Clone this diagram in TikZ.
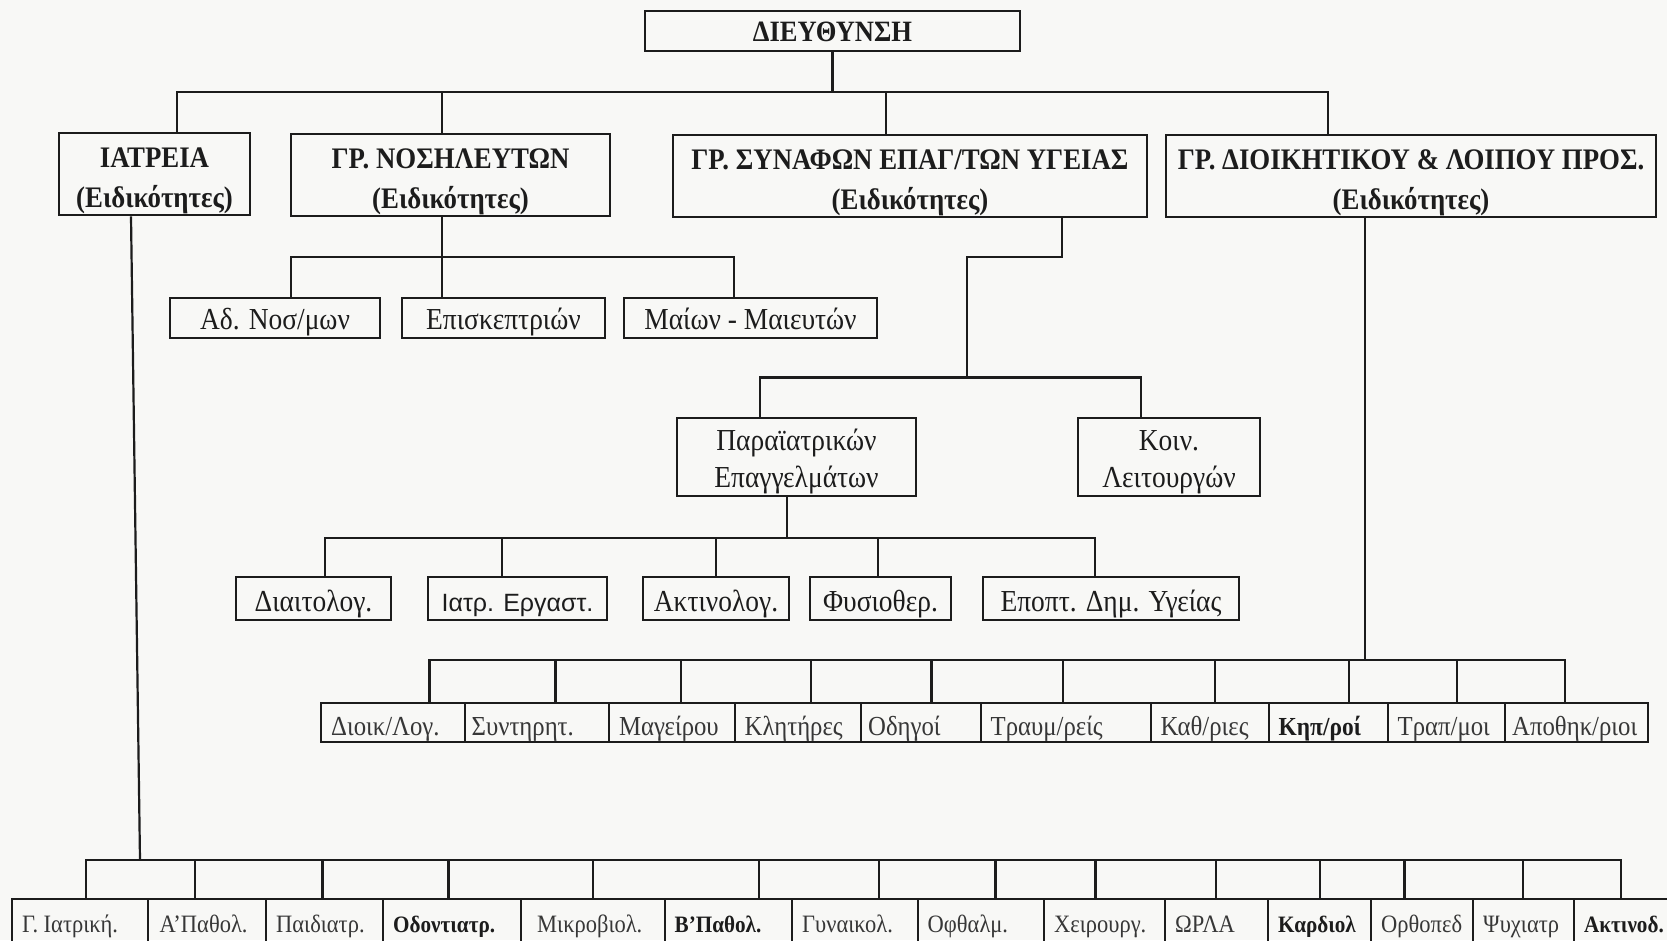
\documentclass[tikz,border=0pt]{standalone}
\usepackage{fontspec}
\setmainfont{Liberation Serif}[FakeStretch=0.9]
\newfontfamily\labsans{Liberation Sans}
\definecolor{paper}{RGB}{248,248,246}
\definecolor{ink}{RGB}{28,28,28}
\definecolor{fade}{RGB}{55,55,55}

\tikzset{
  frame/.style={draw=ink, line width=2.3pt, inner sep=0pt},
  thin/.style={frame, line width=2pt},
  thick/.style={frame, line width=2.6pt},
  link/.style={draw=ink, line width=2.2pt},
  txt/.style={inner sep=0pt, align=center, text=ink},
  headtxt/.style={anchor=base, yshift=-10.8pt, font=\fontsize{29.5}{32}\selectfont\bfseries},
  grouptxt/.style={yshift=-6.5pt, font=\fontsize{29.8}{40}\selectfont\bfseries},
  subtxt/.style={anchor=base, yshift=-11pt, font=\fontsize{30.5}{37}\selectfont},
  pairtxt/.style={yshift=-5pt, font=\fontsize{30.5}{37}\selectfont},
  unittxt/.style={anchor=base, yshift=-13pt, font=\fontsize{30.5}{37}\selectfont},
  stafftxt/.style={anchor=base west, xshift=11pt, yshift=-13pt, text=fade, font=\fontsize{27.5}{30}\selectfont},
  clinictxt/.style={anchor=base west, xshift=11pt, yshift=-10pt, text=fade, font=\fontsize{25}{28}\selectfont},
  heavy/.style={text=ink, font=\fontsize{23.5}{26}\selectfont\bfseries},
}

% box given by its corners, text on its centre:
% [frame style]{name}{x1}{y1}{x2}{y2}{text style}{text}
\newcommand\orgbox[8][]{%
  \node[frame,#1, minimum width={#5-#3}, minimum height={#6-#4}]
    (#2) at ({(#3+#5)/2},{(#4+#6)/2}) {};
  \node[txt,#7] at (#2.center) {#8};}
% same, text set from the left side
\newcommand\orgboxl[8][]{%
  \node[frame,#1, minimum width={#5-#3}, minimum height={#6-#4}]
    (#2) at ({(#3+#5)/2},{(#4+#6)/2}) {};
  \node[txt,#7] at (#2.west) {#8};}

\begin{document}
\begin{tikzpicture}[x=1pt, y=-1pt]
\useasboundingbox (0,0) rectangle (1667,940);
\clip (0,0) rectangle (1667,940);
\fill[paper] (0,0) rectangle (1667,940);

% bus levels
\coordinate (busA) at (0,92);
\coordinate (busN) at (0,257);
\coordinate (busP) at (0,377.5);
\coordinate (busQ) at (0,538);
\coordinate (busD) at (0,660);
\coordinate (busE) at (0,860);

% management
\orgbox{dir}{645}{11}{1020}{51}{headtxt}{ΔΙΕΥΘΥΝΣΗ}

% staff groups
\orgbox[thick]{iatr}{59}{133}{250}{215}{grouptxt}{ΙΑΤΡΕΙΑ\\(Ειδικότητες)}
\orgbox[thick]{nos}{291}{134}{610}{216}{grouptxt}{ΓΡ. ΝΟΣΗΛΕΥΤΩΝ\\(Ειδικότητες)}
\orgbox[thick]{syn}{673}{135}{1147}{217}{grouptxt}{ΓΡ. ΣΥΝΑΦΩΝ ΕΠΑΓ/ΤΩΝ ΥΓΕΙΑΣ\\(Ειδικότητες)}
\orgbox[thick]{dioik}{1166}{135}{1656}{217}{grouptxt}{ΓΡ. ΔΙΟΙΚΗΤΙΚΟΥ \& ΛΟΙΠΟΥ ΠΡΟΣ.\\(Ειδικότητες)}

\draw[link] (dir.south) -- (dir.south |- busA);
\draw[link] (177,0 |- iatr.north) -- (177,0 |- busA) -- (1328,0 |- busA) -- (1328,0 |- dioik.north);
\draw[link] (442,0 |- busA) -- (442,0 |- nos.north);
\draw[link] (886,0 |- busA) -- (886,0 |- syn.north);

% nursing
\orgbox{ados}{170}{298}{380}{338}{subtxt}{Αδ. Νοσ/μων}
\orgbox{episk}{402}{298}{605}{338}{subtxt}{Επισκεπτριών}
\orgbox{maion}{624}{298}{877}{338}{subtxt}{Μαίων - Μαιευτών}

\draw[link] (442,0 |- nos.south) -- (442,0 |- episk.north);
\draw[link] (291,0 |- ados.north) -- (291,0 |- busN) -- (734,0 |- busN) -- (734,0 |- maion.north);

% allied health professions
\orgbox{para}{677}{418}{916}{496}{pairtxt}{Παραϊατρικών\\Επαγγελμάτων}
\orgbox{koin}{1078}{418}{1260}{496}{pairtxt}{Κοιν.\\Λειτουργών}

\draw[link] (1062,0 |- syn.south) -- (1062,0 |- busN) -- (967,0 |- busN) -- (967,0 |- busP);
\draw[link] (760,0 |- para.north) -- (760,0 |- busP) -- (1141,0 |- busP) -- (1141,0 |- koin.north);

\orgbox{diait}{236}{577}{391}{620}{unittxt}{Διαιτολογ.}
\orgbox{iatrerg}{428}{577}{607}{620}{unittxt, font=\fontsize{25}{30}\labsans}{Ιατρ. Εργαστ.}
\orgbox{aktin}{643}{577}{789}{620}{unittxt}{Ακτινολογ.}
\orgbox{fysio}{810}{577}{951}{620}{unittxt}{Φυσιοθερ.}
\orgbox{epopt}{983}{577}{1239}{620}{unittxt}{Εποπτ. Δημ. Υγείας}

\draw[link] (787,0 |- para.south) -- (787,0 |- busQ);
\draw[link] (325,0 |- diait.north) -- (325,0 |- busQ) -- (1095,0 |- busQ) -- (1095,0 |- epopt.north);
\draw[link] (502,0 |- busQ) -- (502,0 |- iatrerg.north);
\draw[link] (716,0 |- busQ) -- (716,0 |- aktin.north);
\draw[link] (878,0 |- busQ) -- (878,0 |- fysio.north);

% administrative and other staff
\orgboxl[thin]{d1}{321}{703}{464.5}{742}{stafftxt}{Διοικ/Λογ.}
\orgboxl[thin]{d2}{464.5}{703}{609}{742}{stafftxt, xshift=-3pt}{Συντηρητ.}
\orgboxl[thin]{d3}{609}{703}{734.5}{742}{stafftxt}{Μαγείρου}
\orgboxl[thin]{d4}{734.5}{703}{861}{742}{stafftxt}{Κλητήρες}
\orgboxl[thin]{d5}{861}{703}{980.5}{742}{stafftxt, xshift=-3pt}{Οδηγοί}
\orgboxl[thin]{d6}{980.5}{703}{1150.5}{742}{stafftxt}{Τραυμ/ρείς}
\orgboxl[thin]{d7}{1150.5}{703}{1268.5}{742}{stafftxt}{Καθ/ριες}
\orgboxl[thin]{d8}{1268.5}{703}{1387.5}{742}{stafftxt, text=ink, font=\fontsize{26}{30}\selectfont\bfseries}{Κηπ/ροί}
\orgboxl[thin]{d9}{1387.5}{703}{1505}{742}{stafftxt}{Τραπ/μοι}
\orgboxl[thin]{d10}{1505}{703}{1648}{742}{stafftxt, xshift=-3pt}{Αποθηκ/ριοι}

\draw[link] (1365,0 |- dioik.south) -- (1365,0 |- busD);
\draw[link] (429.5,0 |- d1.north) -- (429.5,0 |- busD) -- (1565,0 |- busD) -- (1565,0 |- d10.north);
\draw[link] (555.5,0 |- busD) -- (555.5,0 |- d2.north);
\draw[link] (681,0 |- busD) -- (681,0 |- d3.north);
\draw[link] (811,0 |- busD) -- (811,0 |- d4.north);
\draw[link] (931.5,0 |- busD) -- (931.5,0 |- d5.north);
\draw[link] (1063,0 |- busD) -- (1063,0 |- d6.north);
\draw[link] (1215,0 |- busD) -- (1215,0 |- d7.north);
\draw[link] (1349,0 |- busD) -- (1349,0 |- d8.north);
\draw[link] (1457,0 |- busD) -- (1457,0 |- d9.north);

% medical specialties
\orgboxl[thin]{c1}{12}{899}{147.5}{945}{clinictxt}{Γ. Ιατρική.}
\orgboxl[thin]{c2}{147.5}{899}{266}{945}{clinictxt, xshift=2pt}{Α'Παθολ.}
\orgboxl[thin]{c3}{266}{899}{383}{945}{clinictxt}{Παιδιατρ.}
\orgboxl[thin]{c4}{383}{899}{521}{945}{clinictxt, heavy}{Οδοντιατρ.}
\orgboxl[thin]{c5}{521}{899}{664.5}{945}{clinictxt, xshift=6pt}{Μικροβιολ.}
\orgboxl[thin]{c6}{664.5}{899}{792}{945}{clinictxt, heavy}{Β'Παθολ.}
\orgboxl[thin]{c7}{792}{899}{917.5}{945}{clinictxt}{Γυναικολ.}
\orgboxl[thin]{c8}{917.5}{899}{1044}{945}{clinictxt}{Οφθαλμ.}
\orgboxl[thin]{c9}{1044}{899}{1165}{945}{clinictxt}{Χειρουργ.}
\orgboxl[thin]{c10}{1165}{899}{1268}{945}{clinictxt}{ΩΡΛΑ}
\orgboxl[thin]{c11}{1268}{899}{1371}{945}{clinictxt, heavy}{Καρδιολ}
\orgboxl[thin]{c12}{1371}{899}{1473}{945}{clinictxt}{Ορθοπεδ}
\orgboxl[thin]{c13}{1473}{899}{1574}{945}{clinictxt}{Ψυχιατρ}
\orgboxl[thin]{c14}{1574}{899}{1670}{945}{clinictxt, heavy}{Ακτινοδ.}

\draw[link] (131,0 |- iatr.south) -- (140,0 |- busE);
\draw[link] (86,0 |- c1.north) -- (86,0 |- busE) -- (1621,0 |- busE) -- (1621,0 |- c14.north);
\draw[link] (195,0 |- busE) -- (195,0 |- c2.north);
\draw[link] (322.5,0 |- busE) -- (322.5,0 |- c3.north);
\draw[link] (448.5,0 |- busE) -- (448.5,0 |- c4.north);
\draw[link] (593,0 |- busE) -- (593,0 |- c5.north);
\draw[link] (759,0 |- busE) -- (759,0 |- c6.north);
\draw[link] (879,0 |- busE) -- (879,0 |- c7.north);
\draw[link] (995.5,0 |- busE) -- (995.5,0 |- c8.north);
\draw[link] (1095.5,0 |- busE) -- (1095.5,0 |- c9.north);
\draw[link] (1216,0 |- busE) -- (1216,0 |- c10.north);
\draw[link] (1320,0 |- busE) -- (1320,0 |- c11.north);
\draw[link] (1404.5,0 |- busE) -- (1404.5,0 |- c12.north);
\draw[link] (1523,0 |- busE) -- (1523,0 |- c13.north);
\end{tikzpicture}
\end{document}
